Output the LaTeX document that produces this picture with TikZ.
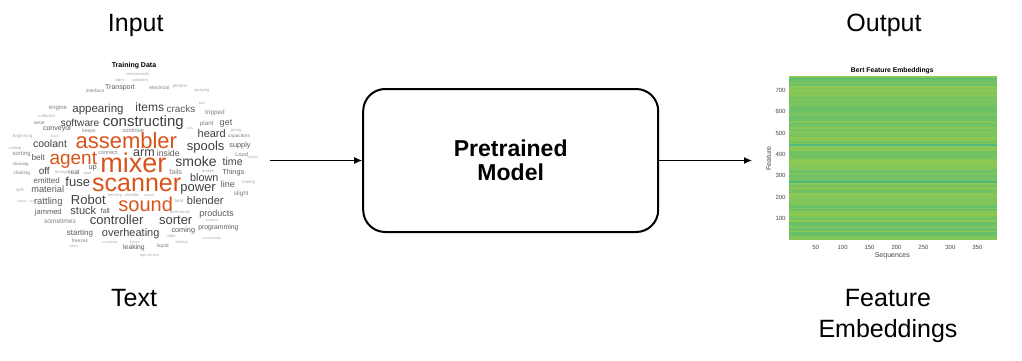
\documentclass[tikz,border=0pt]{standalone}
\usepackage{fontspec}
\setmainfont{Liberation Sans}
\usetikzlibrary{arrows.meta,positioning}

\definecolor{wcorange}{RGB}{217,83,25}
\definecolor{wcdark}{RGB}{64,64,64}
\definecolor{wcmid}{RGB}{90,90,90}
\definecolor{wclight}{RGB}{128,128,128}
\definecolor{wcfaint}{RGB}{170,170,170}
\definecolor{hmgreen}{RGB}{122,198,92}
\definecolor{hmyel}{RGB}{152,202,74}
\definecolor{hmteal}{RGB}{95,190,112}
\definecolor{hmline}{RGB}{78,184,128}
\definecolor{axisgray}{RGB}{70,70,70}

\tikzset{
  bigtext/.style={font=\fontsize{25}{31}\selectfont, anchor=base, inner sep=0pt},
  wc/.style={anchor=base, inner sep=0pt},
  flow/.style={-{Latex[length=8pt,width=7pt]}, line width=1.2pt},
  modelbox/.style={draw, line width=2pt, rounded corners=22pt, minimum width=295pt,
    minimum height=143pt, align=center, font=\bfseries\fontsize{23}{23.5}\selectfont},
  ticklbl/.style={font=\fontsize{6}{6}\selectfont, text=axisgray, inner sep=0pt},
  axlbl/.style={font=\fontsize{7}{7}\selectfont, text=axisgray, inner sep=0pt},
}

\begin{document}
\begin{tikzpicture}[x=1pt,y=-1pt]
  \useasboundingbox (0,0) rectangle (1022,360);
  \pgfmathsetseed{7}

  % headings
  \node[bigtext] (input) at (135.7,31.7) {Input};
  \node[bigtext] (text) at (134,306) {Text};
  \node[bigtext] (output) at (884,31.7) {Output};
  \node[bigtext] (embed) at (888,306) {Feature};
  \node[bigtext] (embed2) at (888,337.3) {Embeddings};

  % word cloud
  \node[wc, font=\bfseries\fontsize{7}{7}\selectfont] (cloudtitle) at (134,67.7) {Training Data};
  \foreach \x/\y/\s/\c/\w [count=\k] in {
    133.3/172.3/27/wcorange/mixer, 136.7/191.7/25/wcorange/scanner,
    126.3/148.3/22/wcorange/assembler, 145.7/211.7/20/wcorange/sound,
    73.3/164/19/wcorange/agent,
    143.3/126.7/15/wcdark/constructing, 196/166/14/wcdark/smoke,
    116.7/224/13/wcdark/controller, 88.3/204/13/wcdark/Robot,
    175.7/224.3/13/wcdark/sorter, 205.7/150/13/wcdark/spools,
    77.7/186.3/13/wcdark/fuse, 198/191/13/wcdark/power,
    144/156.7/12.5/wcdark/arm, 149.7/111.7/12/wcdark/items,
    98/112.3/11.5/wcdark/appearing, 130.7/236.7/11/wcdark/overheating,
    205.3/204.3/11/wcdark/blender, 83.3/214.3/11/wcdark/stuck,
    211.7/137.7/11/wcdark/heard, 204.3/181/10.8/wcdark/blown,
    50/147.3/10.5/wcdark/coolant, 232.7/165.3/10.6/wcdark/time,
    181/112.3/10/wcmid/cracks, 80/126/10.2/wcdark/software,
    44.3/174.3/10/wcdark/off,
    47.7/192.7/9.2/wcmid/material, 48.3/204.7/9.5/wcmid/rattling,
    216.7/216.3/9/wcmid/products, 38.3/160/8.3/wcmid/belt,
    226/125/9/wcmid/get, 228/187/9/wcmid/line,
    120/89/7/wcmid/Transport, 233.3/174.3/7.2/wcmid/Things,
    218.3/229/6.8/wcmid/programming, 183.3/232.3/7.3/wcmid/coming,
    80/235/8/wcmid/starting, 46.7/183/8/wcmid/emitted,
    48.3/214.3/7.5/wcmid/jammed, 60/223.3/6.6/wclight/sometimes,
    57.3/130.7/7/wcmid/conveyor, 58/109.7/6/wclight/engine,
    240/147.7/7.3/wcmid/supply, 241.7/156.7/5.7/wclight/Loud,
    241.3/195/6.3/wclight/slight, 215/114/6.4/wclight/tripped,
    206.7/125.7/6.2/wclight/plant, 168.3/156.7/8.7/wcmid/inside,
    92.7/169.3/7.5/wcmid/up, 175.7/174.3/7.1/wclight/fails,
    105.3/213/7/wcmid/fall, 74/174/6.6/wcmid/real,
    162.7/247.7/5/wclight/liquid, 134/249.3/6.8/wcmid/leaking,
    21.7/155.7/6/wclight/sorting, 21.7/174.7/4.8/wclight/shaking,
    20.7/165/4.3/wclight/showing, 80/242.7/4.9/wclight/freezes,
    95/92.7/4.8/wclight/interface, 159.3/89.7/5/wclight/electrical,
    89/132/5/wclight/keeps, 133.3/132/5.7/wclight/continue,
    108/154/5.5/wclight/connect, 239/137/4.8/wclight/capacitors,
    22.7/137.7/4.5/wcfaint/beginning, 46.7/117.7/4.2/wcfaint/collected,
    39.3/124.7/5/wclight/wear, 180/87.7/4.5/wcfaint/pistons,
    201.7/91.3/4/wcfaint/spraying, 236/131/4/wcfaint/giving,
    15/149.7/4/wcfaint/cooling, 120/81.7/4/wcfaint/signs,
    140/81.5/4/wcfaint/cylinders, 137.7/75/4/wcfaint/unexpectedly,
    20/191/4.5/wcfaint/split, 21.7/202/3.5/wcfaint/output,
    32.7/202/3.5/wcfaint/fear, 61.7/173.5/4/wcfaint/Strange,
    87.3/174/4/wcfaint/pipe, 208.3/172/4/wcfaint/broken,
    252.7/158/3.5/wcfaint/spilled, 248.7/183.3/4.5/wcfaint/mixing,
    115/196.3/4/wcfaint/bending, 131.7/196.3/4/wcfaint/classifier,
    149.3/196.3/3.5/wcfaint/turned, 179/202/4.5/wcfaint/bent,
    180/213.8/4/wcfaint/underneath, 212/221/3.5/wcfaint/cracked,
    171/237/4/wcfaint/roller, 211.7/239/3.5/wcfaint/occasionally,
    181.7/243.3/4/wcfaint/startup, 110/243.5/3.5/wcfaint/overheats,
    135/243.5/3.5/wcfaint/frozen, 74/247.5/3.5/wcfaint/whine,
    149.3/256.3/3.5/wcfaint/high-pitched, 55/137.3/3.5/wcfaint/back,
    190/129/3.5/wcfaint/cuts, 201.7/104.5/3.5/wcfaint/bad}
    \node[wc, text=\c, font=\fontsize{\s}{\s}\selectfont] (w\k) at (\x,\y) {\w};

  % model
  \node[modelbox] (model) at (510.7,160.5) {Pretrained\\Model};
  \coordinate (cloudout) at (270,160.5);
  \coordinate (hmin) at (752,160.5);
  \draw[flow] (cloudout) -- (model.west);
  \draw[flow] (model.east) -- (hmin);

  % heatmap
  \coordinate (hmsw) at (788.5,239.5);
  \coordinate (hmne) at (996.7,76.3);
  \fill[hmgreen] (hmsw) rectangle (hmne);
  \foreach \i in {0,...,80} {
    \pgfmathtruncatemacro{\p}{15+70*rnd}
    \fill[hmyel!\p!hmteal] (788.5,{76.3+\i*2.02}) rectangle (996.7,{76.3+(\i+1)*2.02});
  }
  \foreach \yy in {78.3,145,181.7,209.3,229.3}
    \fill[hmline] (788.5,\yy-0.8) rectangle (996.7,\yy+0.8);
  \node[wc, font=\bfseries\fontsize{6.8}{7}\selectfont] (hmtitle) at (892.3,72) {Bert Feature Embeddings};
  \foreach \v in {100,200,...,700}
    \node[ticklbl, anchor=east] (yt\v) at (785.7,{239.5-\v*0.2127}) {\v};
  \foreach \v in {50,100,...,350}
    \node[ticklbl] (xt\v) at ({788.7+\v*0.539},247.7) {\v};
  \node[axlbl, anchor=base] (xlabel) at (892.3,257.7) {Sequences};
  \node[axlbl, rotate=90] (ylabel) at (768.7,158.3) {Feature};
\end{tikzpicture}
\end{document}
